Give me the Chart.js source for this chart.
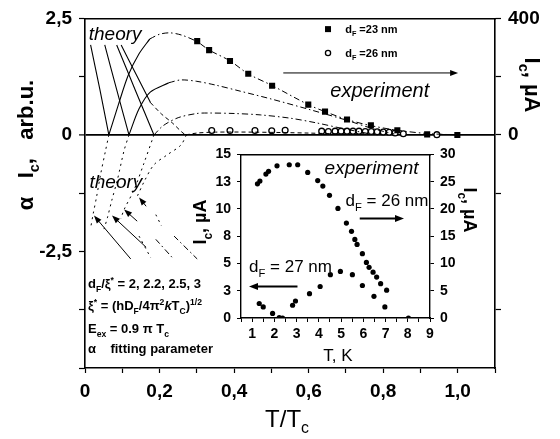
<!DOCTYPE html>
<html>
<head>
<meta charset="utf-8">
<script src="https://cdn.jsdelivr.net/npm/chart.js@4.4.1/dist/chart.umd.min.js"></script>
<style>
  html, body { margin: 0; padding: 0; background: #fff; }
  #wrap { position: relative; width: 560px; height: 439px; }
  #mainChart { position: absolute; left: 0; top: 0; }
  #insetChart { position: absolute; left: 190px; top: 140px; }
</style>
</head>
<body>
<div id="wrap">
  <canvas id="mainChart" width="560" height="439"></canvas>
  <canvas id="insetChart" width="290" height="230"></canvas>
</div>
<script>
// ---- main plot: tick values ----
const xTicks = [0, 0.1, 0.2, 0.3, 0.4, 0.5, 0.6, 0.7, 0.8, 0.9, 1.0, 1.1];
const yTicks = [2.5, 1.25, 0, -1.25, -2.5, -3.75, -5];
const y2Ticks = [400, 200, 0, -200, -600];

// ---- theory curves, [T/Tc, alpha*Ic] ----
// d_F/xi* = 2
const th2Fall = [[0.015, 1.93], [0.04, 0.97], [0.064, 0]];
const th2Rise = [[0.064, 0], [0.09, 0.66], [0.116, 1.28], [0.145, 1.74], [0.174, 2.06]];
const th2Tail = [[0.174, 2.06], [0.2, 2.16], [0.228, 2.19], [0.26, 2.14], [0.301, 2.0], [0.333, 1.82], [0.389, 1.59],
                 [0.438, 1.31], [0.502, 1.06], [0.599, 0.65], [0.644, 0.5], [0.703, 0.33], [0.767, 0.2], [0.838, 0.1],
                 [0.918, 0.03], [1.0, 0]];
const th2Neg = [[0.064, 0], [0.055, -0.34], [0.042, -0.84], [0.031, -1.33], [0.022, -1.69], [0.015, -2.0]];
// d_F/xi* = 2.2
const th22Fall = [[0.053, 1.93], [0.085, 0.97], [0.118, 0]];
const th22Rise = [[0.118, 0], [0.145, 0.56], [0.175, 0.92], [0.225, 1.12]];
const th22Tail = [[0.225, 1.12], [0.257, 1.18], [0.3, 1.15], [0.35, 1.07], [0.416, 0.94], [0.5, 0.77], [0.6, 0.55],
                  [0.7, 0.32], [0.77, 0.14], [0.83, 0.02]];
const th22Neg = [[0.118, 0], [0.105, -0.33], [0.087, -0.96], [0.072, -1.4], [0.06, -1.78], [0.051, -2.02]];
// d_F/xi* = 2.5
const th25Fall = [[0.085, 1.93], [0.135, 0.96], [0.185, 0]];
const th25Rise = [[0.185, 0], [0.21, 0.2], [0.25, 0.37], [0.3, 0.46], [0.33, 0.47], [0.4, 0.46], [0.47, 0.43],
                  [0.55, 0.36], [0.62, 0.26], [0.69, 0.14], [0.76, 0.03]];
const th25Neg = [[0.185, 0], [0.158, -0.61], [0.132, -1.17], [0.105, -1.6], [0.096, -1.8]];
// d_F/xi* = 3
const th3Fall = [[0.097, 1.93], [0.137, 1.3], [0.176, 0.69]];
const th3FallEnd = [[0.176, 0.69], [0.205, 0.45], [0.234, 0.26], [0.26, 0.06], [0.27, 0]];
const th3Rise = [[0.27, 0], [0.3, 0.04], [0.35, 0.06], [0.45, 0.06], [0.6, 0.04], [0.72, 0.01]];
const th3Neg = [[0.272, 0], [0.257, -0.22], [0.22, -0.43], [0.185, -0.64], [0.16, -0.98], [0.14, -1.32]];

// short lines in the lower part
const segDot1 = [[0.145, -2.17], [0.176, -2.63]];
const segDot2 = [[0.19, -1.71], [0.205, -1.95]];
const segDashDot1 = [[0.19, -2.24], [0.234, -2.63]];
const segDashDot2 = [[0.239, -2.17], [0.301, -2.66]];

// arrows [x1, y1, x2(head), y2(head)]
const mainArrows = [
  [0.532, 1.33, 1.001, 1.33],
  [0.1227, -2.66, 0.024, -1.73],
  [0.164, -2.41, 0.0725, -1.73],
  [0.140, -1.85, 0.105, -1.60],
  [0.164, -1.53, 0.145, -1.34]
];

// ---- experiment, right axis (uA) ----
const sqT = [0.301, 0.333, 0.389, 0.438, 0.502, 0.599, 0.644, 0.703, 0.767, 0.838, 0.918, 0.999];
const sqI = [322, 291, 254, 210, 169, 104, 80, 53, 33, 16, 2, 0];
const circT = [0.340, 0.389, 0.456, 0.501, 0.537, 0.635, 0.653, 0.671, 0.687, 0.703, 0.719, 0.735, 0.752, 0.768,
               0.784, 0.800, 0.816, 0.832, 0.854, 0.944];
const circI = [15, 15, 15, 14, 16, 13, 12, 13, 13, 13, 13, 13, 12, 12, 11, 10, 9, 7, 4, 1];

// ---- inset ----
const inXTicks = [0.5, 1, 1.5, 2, 2.5, 3, 3.5, 4, 4.5, 5, 5.5, 6, 6.5, 7, 7.5, 8, 8.5, 9];
const inYTicks = [0, 2.5, 5, 7.5, 10, 12.5, 15];
const inY2Ticks = [0, 5, 10, 15, 20, 25, 30];
const t26 = [1.24, 1.35, 1.62, 1.74, 2.12, 2.67, 3.05, 3.50, 3.95, 4.18, 4.48, 4.86, 5.24, 5.47, 5.62, 5.72, 5.96,
             6.14, 6.26, 6.44, 6.60, 6.78, 7.05];
const i26 = [24.6, 25.1, 26.4, 26.9, 27.9, 28.1, 28.1, 26.7, 25.2, 24.2, 22.5, 20.1, 17.4, 15.9, 14.4, 13.5, 11.8,
             10.2, 9.3, 8.4, 7.5, 6.3, 5.1];
const t27 = [1.32, 1.50, 1.92, 2.22, 2.37, 2.82, 2.95, 3.58, 4.06, 4.52, 4.97, 5.51, 5.96, 6.48, 6.97, 8.03];
const i27 = [1.33, 1.02, 0.42, 0.03, 0, 1.17, 1.56, 2.23, 2.89, 3.97, 4.27, 3.97, 2.98, 1.99, 1.02, 0];
const inArrows = [
  [5.84, 9.12, 7.83, 9.12],
  [3.04, 2.89, 0.86, 2.89]
];

const FAM = '"Liberation Sans", Arial, sans-serif';
const DASHDOT = [6, 3, 1.5, 3];
const DOT = [2, 4];
const DASH = [4, 3];

const xy = pts => pts.map(p => ({ x: p[0], y: p[1] }));
const zip = (a, b) => a.map((v, i) => ({ x: v, y: b[i] }));

function curve(pts, dash, w) {
  return { data: xy(pts), showLine: true, borderColor: '#000', borderWidth: w || 1.1, borderDash: dash || [],
           pointRadius: 0, tension: 0.3, yAxisID: 'y' };
}

// rich text: parts = [[text, kind]], kind '' normal, 'b' sub, 'p' sup, 'i' italic
function partFont(kind, size, weight) {
  const s = (kind === 'b' || kind === 'p') ? size * 0.66 : size;
  return (kind === 'i' ? 'italic ' : '') + weight + ' ' + s + 'px ' + FAM;
}
function drawRich(ctx, x, cy, parts, size, weight, align) {
  weight = weight || 'normal';
  let w = 0;
  parts.forEach(p => { ctx.font = partFont(p[1], size, weight); w += ctx.measureText(p[0]).width; });
  let cx = align === 'center' ? x - w / 2 : x;
  const base = cy + size * 0.36;
  ctx.textBaseline = 'alphabetic';
  ctx.textAlign = 'left';
  parts.forEach(p => {
    ctx.font = partFont(p[1], size, weight);
    let dy = 0;
    if (p[1] === 'b') dy = size * 0.28;
    if (p[1] === 'p') dy = -size * 0.42;
    ctx.fillText(p[0], cx, base + dy);
    cx += ctx.measureText(p[0]).width;
  });
}

function arrow(ctx, x1, y1, x2, y2, lw, hl, hw) {
  const a = Math.atan2(y2 - y1, x2 - x1);
  const c = Math.cos(a), s = Math.sin(a);
  ctx.lineWidth = lw;
  ctx.setLineDash([]);
  ctx.beginPath();
  ctx.moveTo(x1, y1);
  ctx.lineTo(x2 - hl * 0.7 * c, y2 - hl * 0.7 * s);
  ctx.stroke();
  ctx.beginPath();
  ctx.moveTo(x2, y2);
  ctx.lineTo(x2 - hl * c + hw * s, y2 - hl * s - hw * c);
  ctx.lineTo(x2 - hl * c - hw * s, y2 - hl * s + hw * c);
  ctx.closePath();
  ctx.fill();
}

const fixTicks = list => scale => { scale.ticks = list.map(v => ({ value: v })); };
const comma = v => String(v).replace('.', ',');

// ---------- main chart ----------
const mainDecor = {
  id: 'mainDecor',
  afterDraw(chart) {
    const { ctx, scales: { x, y } } = chart;
    const px = v => x.getPixelForValue(v), py = v => y.getPixelForValue(v);
    ctx.save();
    ctx.fillStyle = '#000';
    ctx.strokeStyle = '#000';
    mainArrows.forEach(a => arrow(ctx, px(a[0]), py(a[1]), px(a[2]), py(a[3]), 1, 8, 3));

    drawRich(ctx, px(0.01), py(2.18), [['theory', 'i']], 19);
    drawRich(ctx, px(0.012), py(-1.0), [['theory', 'i']], 19);
    drawRich(ctx, px(0.658), py(0.97), [['experiment', 'i']], 20);

    // legend
    ctx.fillRect(px(0.652) - 3, py(2.27) - 3, 6, 6);
    ctx.beginPath();
    ctx.lineWidth = 1.3;
    ctx.arc(px(0.652), py(1.757), 2.6, 0, Math.PI * 2);
    ctx.stroke();
    drawRich(ctx, px(0.698), py(2.27), [['d', ''], ['F', 'b'], [' =23 nm', '']], 11, 'bold');
    drawRich(ctx, px(0.698), py(1.757), [['d', ''], ['F', 'b'], [' =26 nm', '']], 11, 'bold');

    // parameter block
    drawRich(ctx, px(0.008), py(-3.19), [['d', ''], ['F', 'b'], ['/ξ', ''], ['*', 'p'], [' = 2, 2.2, 2.5, 3', '']], 13, 'bold');
    drawRich(ctx, px(0.008), py(-3.66), [['ξ', ''], ['*', 'p'], [' = (hD', ''], ['F', 'b'], ['/4π', ''], ['2', 'p'],
      ['k', 'i'], ['T', ''], ['C', 'b'], [')', ''], ['1/2', 'p']], 13, 'bold');
    drawRich(ctx, px(0.008), py(-4.15), [['E', ''], ['ex', 'b'], [' = 0.9 π T', ''], ['c', 'b']], 13, 'bold');
    drawRich(ctx, px(0.008), py(-4.57), [['α    fitting parameter', '']], 13, 'bold');

    // axis titles
    drawRich(ctx, 287, 418, [['T/T', ''], ['c', 'b']], 24, 'normal', 'center');
    ctx.save();
    ctx.translate(25, 145);
    ctx.rotate(-Math.PI / 2);
    drawRich(ctx, 0, 0, [['α   I', ''], ['c', 'b'], [',   arb.u.', '']], 22, 'bold', 'center');
    ctx.restore();
    ctx.save();
    ctx.translate(533, 85);
    ctx.rotate(Math.PI / 2);
    drawRich(ctx, 0, 0, [['I', ''], ['c', 'b'], [', µA', '']], 22, 'bold', 'center');
    ctx.restore();
    ctx.restore();
  }
};

new Chart(document.getElementById('mainChart'), {
  type: 'scatter',
  data: {
    datasets: [
      curve(th2Fall), curve(th2Rise), curve(th2Tail, DASHDOT, 1), curve(th2Neg, DOT, 1),
      curve(th22Fall), curve(th22Rise), curve(th22Tail, DASHDOT, 1), curve(th22Neg, DOT, 1),
      curve(th25Fall), curve(th25Rise, DASHDOT, 1), curve(th25Neg, DOT, 1),
      curve(th3Fall), curve(th3FallEnd, DASH, 1), curve(th3Rise, DASH, 1), curve(th3Neg, DOT, 1),
      curve(segDot1, DOT, 1), curve(segDot2, DOT, 1), curve(segDashDot1, DASHDOT, 1), curve(segDashDot2, DASHDOT, 1),
      { data: zip(sqT, sqI), yAxisID: 'y2', pointStyle: 'rect', pointRadius: 4.3, backgroundColor: '#000',
        borderWidth: 0, showLine: false },
      { data: zip(circT, circI), yAxisID: 'y2', pointStyle: 'circle', pointRadius: 2.9, backgroundColor: '#fff',
        borderColor: '#000', borderWidth: 1.3, showLine: false }
    ]
  },
  options: {
    responsive: false,
    animation: false,
    layout: { padding: { top: 15, left: 0, right: 0, bottom: 0 } },
    plugins: { legend: { display: false }, tooltip: { enabled: false } },
    scales: {
      x: {
        type: 'linear', position: 'bottom', min: 0, max: 1.1,
        afterBuildTicks: fixTicks(xTicks),
        afterFit: s => { s.height = 71; },
        grid: { drawOnChartArea: false, tickLength: 5, color: '#000', tickWidth: 1.2 },
        border: { color: '#000', width: 1.6 },
        ticks: {
          color: '#000', padding: 7, maxRotation: 0, autoSkip: false,
          font: { family: FAM, size: 19, weight: 'bold' },
          callback: v => (Math.round(v * 10) % 2 === 0) ? (v === 0 ? '0' : comma(v.toFixed(1))) : ''
        }
      },
      x2: {
        type: 'linear', position: 'top', min: 0, max: 1.1,
        afterFit: s => { s.height = 0; },
        grid: { display: false }, ticks: { display: false },
        border: { color: '#000', width: 1.6 }
      },
      y: {
        type: 'linear', position: 'left', min: -5, max: 2.5,
        afterBuildTicks: fixTicks(yTicks),
        afterFit: s => { s.width = 85; },
        grid: {
          drawOnChartArea: true, tickLength: 6, tickColor: '#000', tickWidth: 1.2,
          color: c => (c.tick && c.tick.value === 0) ? '#000' : 'rgba(0,0,0,0)',
          lineWidth: c => (c.tick && c.tick.value === 0) ? 1.8 : 1
        },
        border: { color: '#000', width: 1.6 },
        ticks: {
          color: '#000', padding: 7, autoSkip: false,
          font: { family: FAM, size: 19, weight: 'bold' },
          callback: v => (v === 2.5 || v === 0 || v === -2.5) ? comma(v) : ''
        }
      },
      y2: {
        type: 'linear', position: 'right', min: -800, max: 400,
        afterBuildTicks: fixTicks(y2Ticks),
        afterFit: s => { s.width = 65; },
        grid: { drawOnChartArea: false, tickLength: 6, color: '#000', tickWidth: 1.2 },
        border: { color: '#000', width: 1.6 },
        ticks: {
          color: '#000', padding: 7, autoSkip: false,
          font: { family: FAM, size: 19, weight: 'bold' },
          callback: v => (v === 400 || v === 0) ? String(v) : ''
        }
      }
    }
  },
  plugins: [mainDecor]
});

// ---------- inset chart ----------
const insetDecor = {
  id: 'insetDecor',
  beforeDraw(chart) {
    const { ctx, chartArea: a } = chart;
    ctx.save();
    ctx.fillStyle = '#fff';
    ctx.fillRect(a.left, a.top, a.right - a.left, a.bottom - a.top);
    ctx.restore();
  },
  afterDraw(chart) {
    const { ctx, scales: { x, y } } = chart;
    const px = v => x.getPixelForValue(v), py = v => y.getPixelForValue(v);
    ctx.save();
    ctx.fillStyle = '#000';
    ctx.strokeStyle = '#000';
    inArrows.forEach(a => arrow(ctx, px(a[0]), py(a[1]), px(a[2]), py(a[3]), 2, 9, 3.5));
    drawRich(ctx, px(4.26), py(13.8), [['experiment', 'i']], 19);
    drawRich(ctx, px(5.2), py(10.84), [['d', ''], ['F', 'b'], [' = 26 nm', '']], 17);
    drawRich(ctx, px(0.86), py(4.79), [['d', ''], ['F', 'b'], [' = 27 nm', '']], 17);
    drawRich(ctx, 148, 215, [['T, K', '']], 17, 'normal', 'center');
    ctx.save();
    ctx.translate(10, 82);
    ctx.rotate(-Math.PI / 2);
    drawRich(ctx, 0, 0, [['I', ''], ['c', 'b'], [', µA', '']], 18, 'bold', 'center');
    ctx.restore();
    ctx.save();
    ctx.translate(280, 70);
    ctx.rotate(Math.PI / 2);
    drawRich(ctx, 0, 0, [['I', ''], ['c', 'b'], [', µA', '']], 18, 'bold', 'center');
    ctx.restore();
    ctx.restore();
  }
};

const inTickFont = { family: FAM, size: 14, weight: 'bold' };
new Chart(document.getElementById('insetChart'), {
  type: 'scatter',
  data: {
    datasets: [
      { data: zip(t26, i26), yAxisID: 'yr', pointRadius: 2.6, backgroundColor: '#000', borderWidth: 0 },
      { data: zip(t27, i27), yAxisID: 'y', pointRadius: 2.6, backgroundColor: '#000', borderWidth: 0 }
    ]
  },
  options: {
    responsive: false,
    animation: false,
    layout: { padding: { top: 12, left: 0, right: 0, bottom: 0 } },
    plugins: { legend: { display: false }, tooltip: { enabled: false } },
    scales: {
      x: {
        type: 'linear', position: 'bottom', min: 0.5, max: 9,
        afterBuildTicks: fixTicks(inXTicks),
        afterFit: s => { s.height = 52; },
        grid: { drawOnChartArea: false, tickLength: 4, color: '#000' },
        border: { color: '#000', width: 1.4 },
        ticks: { color: '#000', padding: 4, maxRotation: 0, autoSkip: false, font: inTickFont,
                 callback: v => Number.isInteger(v) ? String(v) : '' }
      },
      x2: {
        type: 'linear', position: 'top', min: 0.5, max: 9,
        afterFit: s => { s.height = 0; },
        grid: { display: false }, ticks: { display: false },
        border: { color: '#000', width: 1.4 }
      },
      y: {
        type: 'linear', position: 'left', min: 0, max: 15,
        afterBuildTicks: fixTicks(inYTicks),
        afterFit: s => { s.width = 51; },
        grid: { drawOnChartArea: false, tickLength: 4, color: '#000' },
        border: { color: '#000', width: 1.4 },
        ticks: { color: '#000', padding: 6, autoSkip: false, font: inTickFont, callback: v => String(Math.round(v)) }
      },
      yr: {
        type: 'linear', position: 'right', min: 0, max: 30,
        afterBuildTicks: fixTicks(inY2Ticks),
        afterFit: s => { s.width = 50; },
        grid: { drawOnChartArea: false, tickLength: 4, color: '#000' },
        border: { color: '#000', width: 1.4 },
        ticks: { color: '#000', padding: 6, autoSkip: false, font: inTickFont, callback: v => String(v) }
      }
    }
  },
  plugins: [insetDecor]
});
</script>
</body>
</html>
